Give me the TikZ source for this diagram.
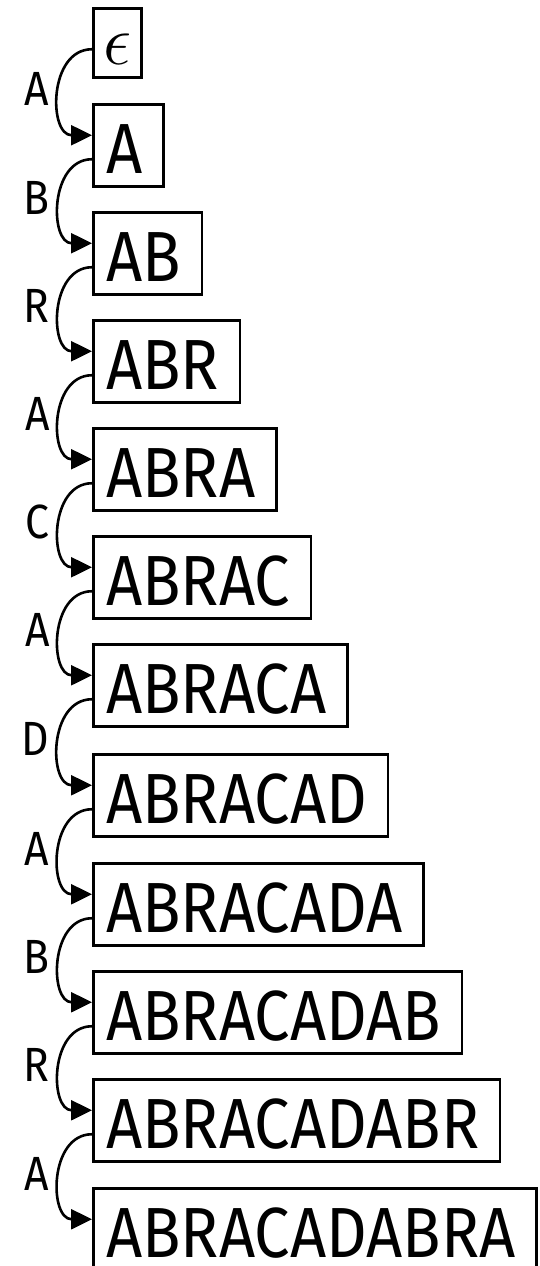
\RequirePackage{fix-cm}
\documentclass[tikz,border=0pt]{standalone}
\usepackage{fontspec}
\setmainfont{Fira Sans}[FakeStretch=0.89]
\usetikzlibrary{arrows.meta}

\tikzset{
  box/.style={draw, line width=2.5pt, anchor=north west,
    inner xsep=13pt, inner ysep=13pt, text depth=0pt,
    font=\fontsize{71}{80}\selectfont},
  word/.style={box, text height=56pt, execute at end node={\kern 8pt}},
  empty/.style={box, text height=43pt, inner xsep=10pt},
  arc/.style={line width=2.6pt, -{Triangle[length=21pt,width=20pt]},
    out=180, in=180, looseness=1.3},
  lbl/.style={midway, left, inner sep=9pt, yshift=3pt,
    font=\fontsize{48}{56}\selectfont}
}

\begin{document}
\begin{tikzpicture}[x=1pt, y=-1pt]
  \useasboundingbox (0,0) rectangle (539,1266);

  % prefixes of the word, one per row
  \node[empty] (p0)  at (92,7)    {$\epsilon$};
  \node[word]  (p1)  at (92,103)  {A};
  \node[word]  (p2)  at (92,211)  {AB};
  \node[word]  (p3)  at (92,319)  {ABR};
  \node[word]  (p4)  at (92,427)  {ABRA};
  \node[word]  (p5)  at (92,535)  {ABRAC};
  \node[word]  (p6)  at (92,643)  {ABRACA};
  \node[word]  (p7)  at (92,753)  {ABRACAD};
  \node[word]  (p8)  at (92,862)  {ABRACADA};
  \node[word]  (p9)  at (92,970)  {ABRACADAB};
  \node[word]  (p10) at (92,1078) {ABRACADABR};
  \node[word]  (p11) at (92,1187) {ABRACADABRA};

  % transitions, each labelled with the letter appended
  \draw[arc] ([yshift=15pt]p0.base west)  to node[lbl]{A} ([yshift=38pt]p1.base west);
  \draw[arc] ([yshift=14pt]p1.base west)  to node[lbl]{B} ([yshift=38pt]p2.base west);
  \draw[arc] ([yshift=14pt]p2.base west)  to node[lbl]{R} ([yshift=38pt]p3.base west);
  \draw[arc] ([yshift=14pt]p3.base west)  to node[lbl]{A} ([yshift=38pt]p4.base west);
  \draw[arc] ([yshift=14pt]p4.base west)  to node[lbl]{C} ([yshift=38pt]p5.base west);
  \draw[arc] ([yshift=14pt]p5.base west)  to node[lbl]{A} ([yshift=38pt]p6.base west);
  \draw[arc] ([yshift=14pt]p6.base west)  to node[lbl]{D} ([yshift=38pt]p7.base west);
  \draw[arc] ([yshift=14pt]p7.base west)  to node[lbl]{A} ([yshift=38pt]p8.base west);
  \draw[arc] ([yshift=14pt]p8.base west)  to node[lbl]{B} ([yshift=38pt]p9.base west);
  \draw[arc] ([yshift=14pt]p9.base west)  to node[lbl]{R} ([yshift=38pt]p10.base west);
  \draw[arc] ([yshift=14pt]p10.base west) to node[lbl]{A} ([yshift=38pt]p11.base west);
\end{tikzpicture}
\end{document}
